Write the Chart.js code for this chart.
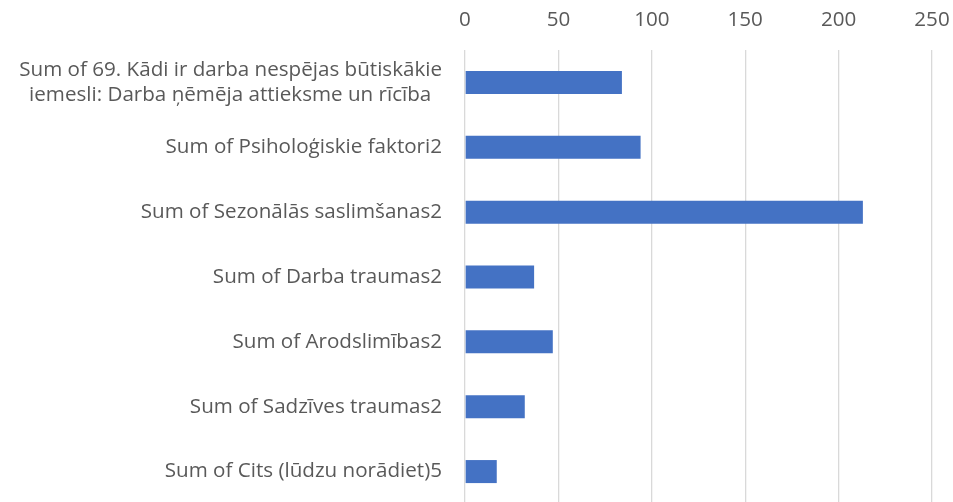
<!DOCTYPE html>
<html>
<head>
<meta charset="utf-8">
<script src="https://cdn.jsdelivr.net/npm/chart.js@4/dist/chart.umd.min.js"></script>
<style>
  html, body { margin:0; padding:0; background:#fff; overflow:hidden; }
</style>
</head>
<body>
<canvas id="chart" width="953" height="504"></canvas>
<script>
/* ─── Data ───────────────────────────────────────────────────────────── */
// second line of the first label is centred under the first one in the original,
// the trailing no-break spaces keep it that way with right-aligned ticks
const categories = [
  ["Sum of 69. Kādi ir darba nespējas būtiskākie", "iemesli: Darba ņēmēja attieksme un rīcība\u00A0\u00A0"],
  "Sum of Psiholoģiskie faktori2",
  "Sum of Sezonālās saslimšanas2",
  "Sum of Darba traumas2",
  "Sum of Arodslimības2",
  "Sum of Sadzīves traumas2",
  "Sum of Cits (lūdzu norādiet)5",
];
const values = [84, 94, 213, 37, 47, 32, 17];
const xTicks = [0, 50, 100, 150, 200, 250];

const TEXT = "#595959";
const FONT = "'Open Sans', sans-serif";

/* ─── Chart ──────────────────────────────────────────────────────────── */
new Chart(document.getElementById("chart").getContext("2d"), {
  type: "bar",
  data: {
    labels: categories,
    datasets: [{
      data: values,
      backgroundColor: "#4472C4",
      borderWidth: 0,
      barPercentage: 0.355,
      categoryPercentage: 1,
    }],
  },
  options: {
    indexAxis: "y",
    responsive: false, animation: false,
    layout: { padding: { left: 0, right: 21, top: 0, bottom: 0 } },
    plugins: { legend: { display: false }, tooltip: { enabled: false } },
    scales: {
      x: {
        position: "top",
        min: xTicks[0], max: xTicks[xTicks.length - 1],
        afterBuildTicks: s => { s.ticks = xTicks.map(v => ({ value: v })); },
        afterFit: s => { s.height = 50; s.paddingLeft = 0; s.paddingRight = 0; },
        ticks: { color: TEXT, font: { family: FONT, size: 20.6 }, padding: 18 },
        grid: { color: "#d9d9d9", lineWidth: 1.3, drawTicks: false },
        border: { display: false },
      },
      y: {
        afterFit: s => { s.width = 465; s.paddingTop = 0; s.paddingBottom = 0; },
        ticks: { color: TEXT, font: { family: FONT, size: 20.6, lineHeight: 1.22 }, padding: 23 },
        grid: { display: false, drawTicks: false },
        border: { display: false },
      },
    },
  },
});
</script>
</body>
</html>
